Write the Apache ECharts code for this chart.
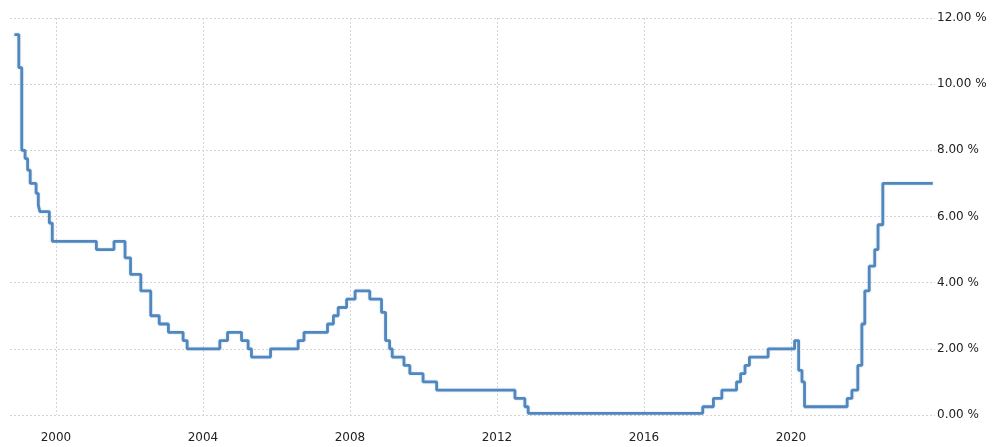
<!DOCTYPE html>
<html>
<head>
<meta charset="utf-8">
<script src="https://cdn.jsdelivr.net/npm/echarts@6/dist/echarts.min.js"></script>
<style>
html,body{margin:0;padding:0;background:#fff;}
#chart{width:995px;height:447px;}
</style>
</head>
<body>
<div id="chart"></div>
<script>
// Dates (decimal years) at which the rate changes, and the rate from that date
const changeDates = [
  1998.87, 1998.99, 1999.07, 1999.16, 1999.23, 1999.30, 1999.46, 1999.52, 1999.56, 1999.82, 1999.90,
  2001.10, 2001.58, 2001.88, 2002.03, 2002.31, 2002.58, 2002.81, 2003.06, 2003.46, 2003.57,
  2004.46, 2004.67, 2005.05, 2005.23, 2005.32, 2005.84, 2006.59, 2006.75, 2007.39, 2007.55,
  2007.68, 2007.91, 2008.14, 2008.54, 2008.86, 2008.97, 2009.08, 2009.15, 2009.47, 2009.63,
  2009.99, 2010.36, 2012.49, 2012.76, 2012.85, 2017.60, 2017.89, 2018.12, 2018.52, 2018.63,
  2018.75, 2018.87, 2019.38, 2020.10, 2020.21, 2020.30, 2020.37, 2021.53, 2021.66, 2021.82,
  2021.93, 2022.01, 2022.13, 2022.28, 2022.37, 2022.50, 2023.86
];
const rates = [
  11.50, 10.50, 8.00, 7.75, 7.40, 7.00, 6.70, 6.35, 6.15, 5.80, 5.25,
  5.00, 5.25, 4.75, 4.25, 3.75, 3.00, 2.75, 2.50, 2.25, 2.00,
  2.25, 2.50, 2.25, 2.00, 1.75, 2.00, 2.25, 2.50, 2.75, 3.00,
  3.25, 3.50, 3.75, 3.50, 3.10, 2.25, 2.00, 1.75, 1.50, 1.25,
  1.00, 0.75, 0.50, 0.25, 0.05, 0.25, 0.50, 0.75, 1.00, 1.25,
  1.50, 1.75, 2.00, 2.25, 1.35, 1.00, 0.25, 0.50, 0.75, 1.50,
  2.75, 3.75, 4.50, 5.00, 5.75, 7.00, 7.00
];
const yearTicks = [2000, 2004, 2008, 2012, 2016, 2020];

const chart = echarts.init(document.getElementById('chart'), null, {renderer: 'canvas'});
const seriesData = changeDates.map((d, i) => [d, rates[i]]);
const font = '"DejaVu Sans", Tahoma, sans-serif';
chart.setOption({
  animation: false,
  backgroundColor: '#ffffff',
  grid: {left: 10, right: 60, top: 18, bottom: 32, containLabel: false},
  xAxis: {
    type: 'value',
    min: 1998.75,
    max: 2023.92,
    axisLine: {show: false},
    axisTick: {show: false, customValues: yearTicks},
    axisLabel: {
      customValues: yearTicks,
      formatter: v => String(Math.round(v)),
      color: '#222',
      fontSize: 12,
      fontFamily: font,
      margin: 17
    },
    splitLine: {show: true, lineStyle: {color: '#d4d4d4', type: [2, 2], width: 1}}
  },
  yAxis: {
    type: 'value',
    position: 'right',
    min: 0,
    max: 12,
    interval: 2,
    axisLine: {show: false},
    axisTick: {show: false},
    axisLabel: {
      formatter: v => v.toFixed(2) + ' %',
      color: '#222',
      fontSize: 12,
      fontFamily: font,
      margin: 2
    },
    splitLine: {show: true, lineStyle: {color: '#d4d4d4', type: [2, 2], width: 1}}
  },
  series: [{
    type: 'line',
    step: 'end',
    data: seriesData,
    showSymbol: false,
    symbol: 'none',
    lineStyle: {color: '#5087bf', width: 2.8, shadowColor: 'rgba(80,135,191,0.35)', shadowBlur: 2},
    itemStyle: {color: '#5087bf'}
  }]
});
</script>
</body>
</html>
